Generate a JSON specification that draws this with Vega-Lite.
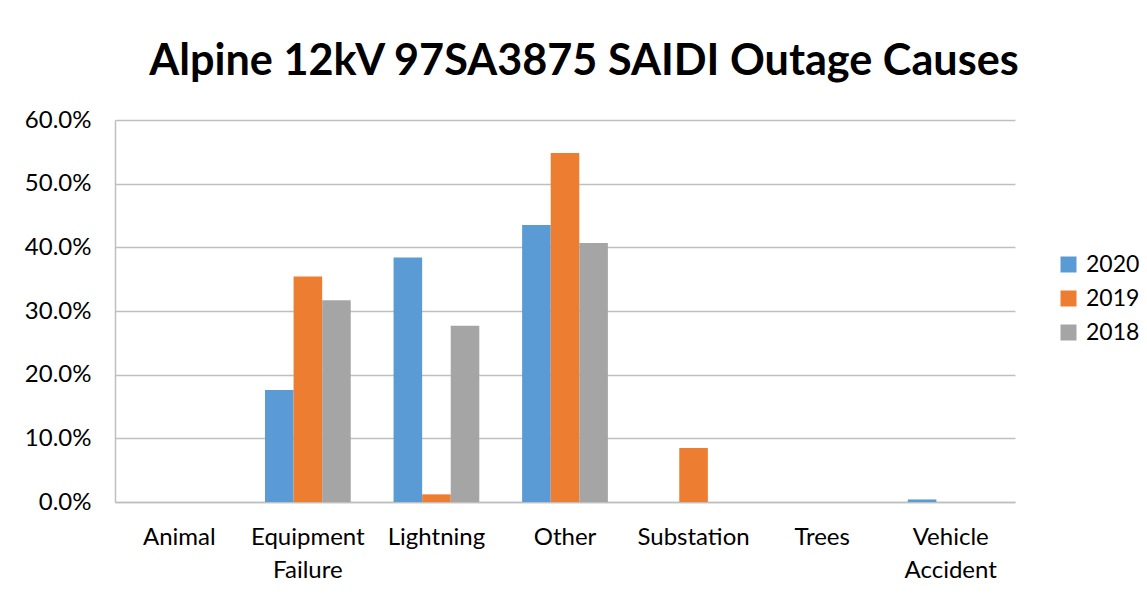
{
  "$schema": "https://vega.github.io/schema/vega-lite/v6.json",
  "autosize": "none",
  "width": 900,
  "height": 382,
  "padding": {"left": 115, "top": 120, "right": 132, "bottom": 95},
  "background": "white",
  "title": {
    "text": "Alpine 12kV 97SA3875 SAIDI Outage Causes",
    "font": "Lato",
    "fontSize": 43.2,
    "fontWeight": "bold",
    "color": "#000000",
    "anchor": "middle",
    "dx": 19,
    "offset": 24
  },
  "data": {
    "values": [
      {"cause": "Animal", "year": "2020", "pct": 0},
      {"cause": "Animal", "year": "2019", "pct": 0},
      {"cause": "Animal", "year": "2018", "pct": 0},
      {"cause": "Equipment Failure", "year": "2020", "pct": 0.176},
      {"cause": "Equipment Failure", "year": "2019", "pct": 0.354},
      {"cause": "Equipment Failure", "year": "2018", "pct": 0.317},
      {"cause": "Lightning", "year": "2020", "pct": 0.384},
      {"cause": "Lightning", "year": "2019", "pct": 0.012},
      {"cause": "Lightning", "year": "2018", "pct": 0.277},
      {"cause": "Other", "year": "2020", "pct": 0.435},
      {"cause": "Other", "year": "2019", "pct": 0.548},
      {"cause": "Other", "year": "2018", "pct": 0.407},
      {"cause": "Substation", "year": "2020", "pct": 0},
      {"cause": "Substation", "year": "2019", "pct": 0.085},
      {"cause": "Substation", "year": "2018", "pct": 0},
      {"cause": "Trees", "year": "2020", "pct": 0},
      {"cause": "Trees", "year": "2019", "pct": 0},
      {"cause": "Trees", "year": "2018", "pct": 0},
      {"cause": "Vehicle Accident", "year": "2020", "pct": 0.004},
      {"cause": "Vehicle Accident", "year": "2019", "pct": 0},
      {"cause": "Vehicle Accident", "year": "2018", "pct": 0}
    ]
  },
  "mark": {"type": "bar"},
  "encoding": {
    "x": {
      "field": "cause",
      "type": "nominal",
      "sort": null,
      "scale": {"paddingInner": 0.333, "paddingOuter": 0.1667},
      "axis": {
        "title": null,
        "labelAngle": 0,
        "labelFont": "Lato",
        "labelFontSize": 24,
        "labelColor": "#000000",
        "labelExpr": "split(datum.label, ' ')",
        "labelLineHeight": 33,
        "labelPadding": 23,
        "labelBaseline": "top",
        "labelOverlap": false,
        "ticks": false,
        "domain": true,
        "domainColor": "#bfbfbf",
        "domainWidth": 1.5,
        "grid": false
      }
    },
    "xOffset": {"field": "year", "type": "nominal", "sort": ["2020", "2019", "2018"]},
    "y": {
      "field": "pct",
      "type": "quantitative",
      "scale": {"domain": [0, 0.6], "nice": false},
      "axis": {
        "title": null,
        "format": ".1%",
        "values": [0, 0.1, 0.2, 0.3, 0.4, 0.5, 0.6],
        "labelOverlap": false,
        "labelFont": "Lato",
        "labelFontSize": 24,
        "labelColor": "#000000",
        "labelPadding": 24,
        "ticks": false,
        "domain": true,
        "domainColor": "#bfbfbf",
        "domainWidth": 1.5,
        "grid": true,
        "gridColor": "#bfbfbf",
        "gridWidth": 1.5
      }
    },
    "color": {
      "field": "year",
      "type": "nominal",
      "sort": ["2020", "2019", "2018"],
      "scale": {"domain": ["2020", "2019", "2018"], "range": ["#5B9BD5", "#ED7D31", "#A5A5A5"]},
      "legend": {
        "title": null,
        "orient": "none",
        "legendX": 942,
        "legendY": 133,
        "symbolType": "square",
        "symbolSize": 256,
        "symbolStrokeWidth": 0,
        "labelFont": "Lato",
        "labelFontSize": 23,
        "labelColor": "#000000",
        "labelOffset": 6,
        "rowPadding": 10
      }
    }
  },
  "config": {"view": {"stroke": null}}
}
